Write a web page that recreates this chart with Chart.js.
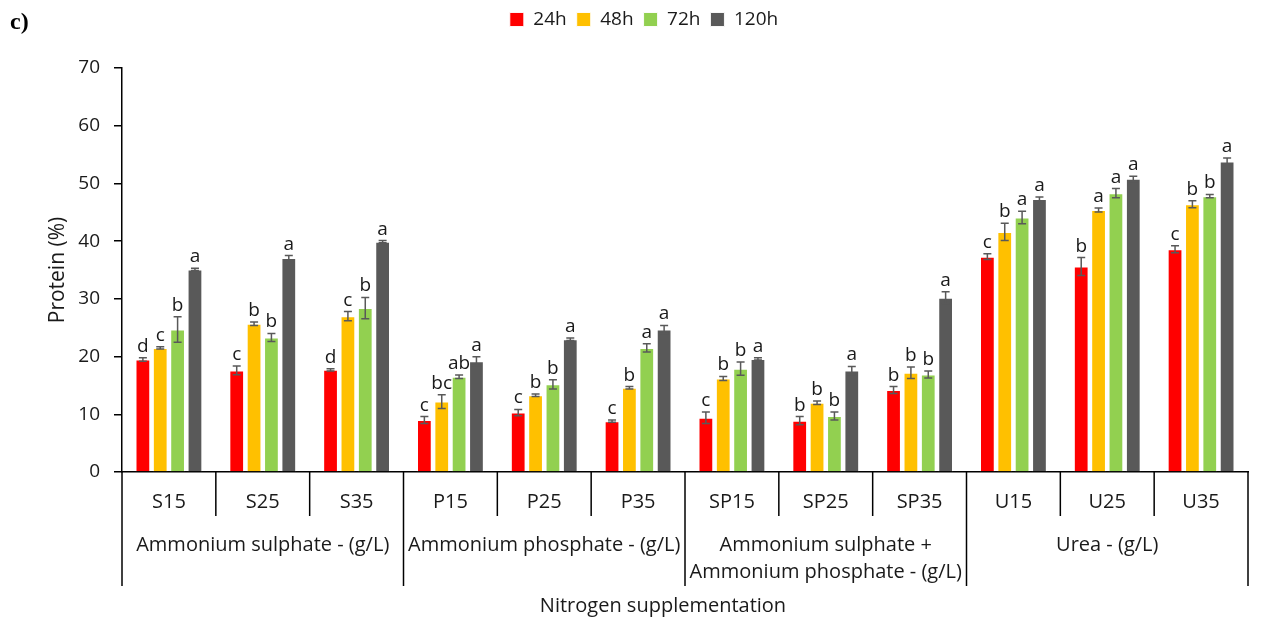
<!DOCTYPE html>
<html lang="en">
<head>
    <meta charset="UTF-8">
    <title>Protein (%) - Nitrogen supplementation</title>
    <script src="https://cdn.jsdelivr.net/npm/chart.js"></script>
    <style>
        body {
            margin: 0;
            background-color: #fff;
        }
        #wrap {
            width: 1270px;
            height: 621px;
            position: relative;
        }
    </style>
</head>
<body>
    <div id="wrap">
        <canvas id="proteinChart" width="1270" height="621"></canvas>
    </div>
    <script>
        const categories = ['S15', 'S25', 'S35', 'P15', 'P25', 'P35', 'SP15', 'SP25', 'SP35', 'U15', 'U25', 'U35'];
        const groupLabels = [
            ['Ammonium sulphate - (g/L)'],
            ['Ammonium phosphate - (g/L)'],
            ['Ammonium sulphate +', 'Ammonium phosphate - (g/L)'],
            ['Urea - (g/L)']
        ];
        const groupSize = 3;

        const seriesNames = ['24h', '48h', '72h', '120h'];
        const seriesColors = ['#ff0000', '#ffc000', '#92d050', '#595959'];

        const h24  = [19.5, 17.6, 17.7,  9.0, 10.3,  8.8,  9.4,  8.9, 14.2, 37.3, 35.6, 38.6];
        const h48  = [21.5, 25.7, 27.0, 12.2, 13.3, 14.6, 16.2, 12.0, 17.2, 41.6, 45.4, 46.4];
        const h72  = [24.7, 23.3, 28.4, 16.5, 15.2, 21.5, 17.9,  9.7, 16.9, 44.1, 48.3, 47.8];
        const h120 = [35.1, 37.1, 39.9, 19.2, 23.0, 24.7, 19.6, 17.6, 30.2, 47.3, 50.8, 53.8];

        // standard deviations (error bars)
        const e24  = [0.3, 0.75, 0.2, 0.6, 0.55, 0.2, 1.0, 0.7, 0.6, 0.5, 1.55, 0.6];
        const e48  = [0.2, 0.3, 0.8, 1.2, 0.2, 0.2, 0.35, 0.3, 1.0, 1.5, 0.35, 0.6];
        const e72  = [2.2, 0.7, 1.85, 0.3, 0.8, 0.7, 1.15, 0.7, 0.6, 1.1, 0.8, 0.3];
        const e120 = [0.2, 0.4, 0.2, 0.75, 0.2, 0.7, 0.2, 0.7, 1.05, 0.35, 0.45, 0.6];

        // significance letters
        const l24  = ['d', 'c', 'd', 'c', 'c', 'c', 'c', 'b', 'b', 'c', 'b', 'c'];
        const l48  = ['c', 'b', 'c', 'bc', 'b', 'b', 'b', 'b', 'b', 'b', 'a', 'b'];
        const l72  = ['b', 'b', 'b', 'ab', 'b', 'a', 'b', 'b', 'b', 'a', 'a', 'b'];
        const l120 = ['a', 'a', 'a', 'a', 'a', 'a', 'a', 'a', 'a', 'a', 'a', 'a'];

        const yTicks = [0, 10, 20, 30, 40, 50, 60, 70];

        const values = [h24, h48, h72, h120];
        const errors = [e24, e48, e72, e120];
        const letters = [l24, l48, l72, l120];

        const FONT = "'Open Sans', sans-serif";
        const TEXT = '#1a1a1a';

        // error bars + letters above each bar
        const errorBarPlugin = {
            id: 'errorBars',
            afterDatasetsDraw(chart) {
                const ctx = chart.ctx;
                const y = chart.scales.y;
                ctx.save();
                chart.data.datasets.forEach((ds, di) => {
                    const meta = chart.getDatasetMeta(di);
                    meta.data.forEach((bar, i) => {
                        const v = values[di][i];
                        const e = errors[di][i];
                        const top = y.getPixelForValue(v + e);
                        const bot = y.getPixelForValue(v - e);
                        ctx.strokeStyle = '#595959';
                        ctx.lineWidth = 1.5;
                        ctx.beginPath();
                        ctx.moveTo(bar.x, top);
                        ctx.lineTo(bar.x, bot);
                        ctx.moveTo(bar.x - 4, top);
                        ctx.lineTo(bar.x + 4, top);
                        ctx.moveTo(bar.x - 4, bot);
                        ctx.lineTo(bar.x + 4, bot);
                        ctx.stroke();

                        ctx.fillStyle = TEXT;
                        ctx.font = '19px ' + FONT;
                        ctx.textAlign = 'center';
                        ctx.textBaseline = 'alphabetic';
                        ctx.fillText(letters[di][i], bar.x, Math.min(top, y.getPixelForValue(v)) - 6);
                    });
                });
                ctx.restore();
            }
        };

        // boxed two-level category axis, panel tag and axis title
        const groupAxisPlugin = {
            id: 'groupAxis',
            afterDraw(chart) {
                const ctx = chart.ctx;
                const x = chart.scales.x;
                const area = chart.chartArea;
                const n = categories.length;
                const bounds = [];
                for (let i = 0; i <= n; i++) {
                    if (i === 0) bounds.push(area.left);
                    else if (i === n) bounds.push(area.right);
                    else bounds.push((x.getPixelForValue(i - 1) + x.getPixelForValue(i)) / 2);
                }
                ctx.save();
                ctx.strokeStyle = '#000';
                ctx.lineWidth = 1.5;
                bounds.forEach((bx, i) => {
                    const isGroup = i % groupSize === 0;
                    ctx.beginPath();
                    ctx.moveTo(bx, area.bottom);
                    ctx.lineTo(bx, area.bottom + (isGroup ? 114 : 44));
                    ctx.stroke();
                });

                ctx.fillStyle = TEXT;
                ctx.font = '20px ' + FONT;
                ctx.textAlign = 'center';
                ctx.textBaseline = 'middle';
                groupLabels.forEach((lines, g) => {
                    const cx = (bounds[g * groupSize] + bounds[(g + 1) * groupSize]) / 2;
                    lines.forEach((t, k) => {
                        ctx.fillText(t, cx, area.bottom + 73 + k * 27);
                    });
                });

                ctx.fillText('Nitrogen supplementation', (area.left + area.right) / 2 - 22, area.bottom + 134);

                ctx.fillStyle = '#000';
                ctx.font = 'bold 24px "Liberation Serif", serif';
                ctx.textAlign = 'left';
                ctx.textBaseline = 'alphabetic';
                ctx.fillText('c)', 10, 29);
                ctx.restore();
            }
        };

        const ctx = document.getElementById('proteinChart').getContext('2d');
        new Chart(ctx, {
            type: 'bar',
            data: {
                labels: categories,
                datasets: seriesNames.map((name, i) => ({
                    label: name,
                    data: values[i],
                    backgroundColor: seriesColors[i],
                    borderColor: 'rgba(255, 255, 255, 0.9)',
                    borderWidth: 1,
                    categoryPercentage: 0.74,
                    barPercentage: 0.85
                }))
            },
            options: {
                responsive: false,
                animation: false,
                layout: {
                    padding: { left: 40, right: 22, top: 0, bottom: 0 }
                },
                plugins: {
                    legend: {
                        position: 'top',
                        labels: {
                            boxWidth: 14,
                            boxHeight: 14,
                            padding: 10,
                            color: TEXT,
                            font: { family: FONT, size: 19 }
                        }
                    },
                    // empty title used as a spacer between legend and plot
                    title: {
                        display: true,
                        text: ' ',
                        weight: 500,
                        font: { size: 10, lineHeight: 1 },
                        padding: { top: 0, bottom: 19 }
                    },
                    tooltip: { enabled: false }
                },
                scales: {
                    x: {
                        grid: { display: false },
                        border: { display: true, color: '#000', width: 1.5 },
                        ticks: {
                            color: TEXT,
                            padding: 10,
                            maxRotation: 0,
                            font: { family: FONT, size: 20 }
                        },
                        afterFit(scale) { scale.height = 149; }
                    },
                    y: {
                        min: 0,
                        max: 70,
                        afterBuildTicks(scale) { scale.ticks = yTicks.map(v => ({ value: v })); },
                        grid: {
                            display: true,
                            drawOnChartArea: false,
                            drawTicks: true,
                            tickLength: 8,
                            color: '#000',
                            lineWidth: 1.5
                        },
                        border: { display: true, color: '#000', width: 1.5 },
                        ticks: {
                            color: TEXT,
                            padding: 14,
                            font: { family: FONT, size: 19 }
                        },
                        title: {
                            display: true,
                            text: 'Protein (%)',
                            color: TEXT,
                            padding: { top: 5, bottom: 0 },
                            font: { family: FONT, size: 21 }
                        },
                        afterFit(scale) { scale.width = 82; }
                    }
                }
            },
            plugins: [errorBarPlugin, groupAxisPlugin]
        });
    </script>
</body>
</html>
